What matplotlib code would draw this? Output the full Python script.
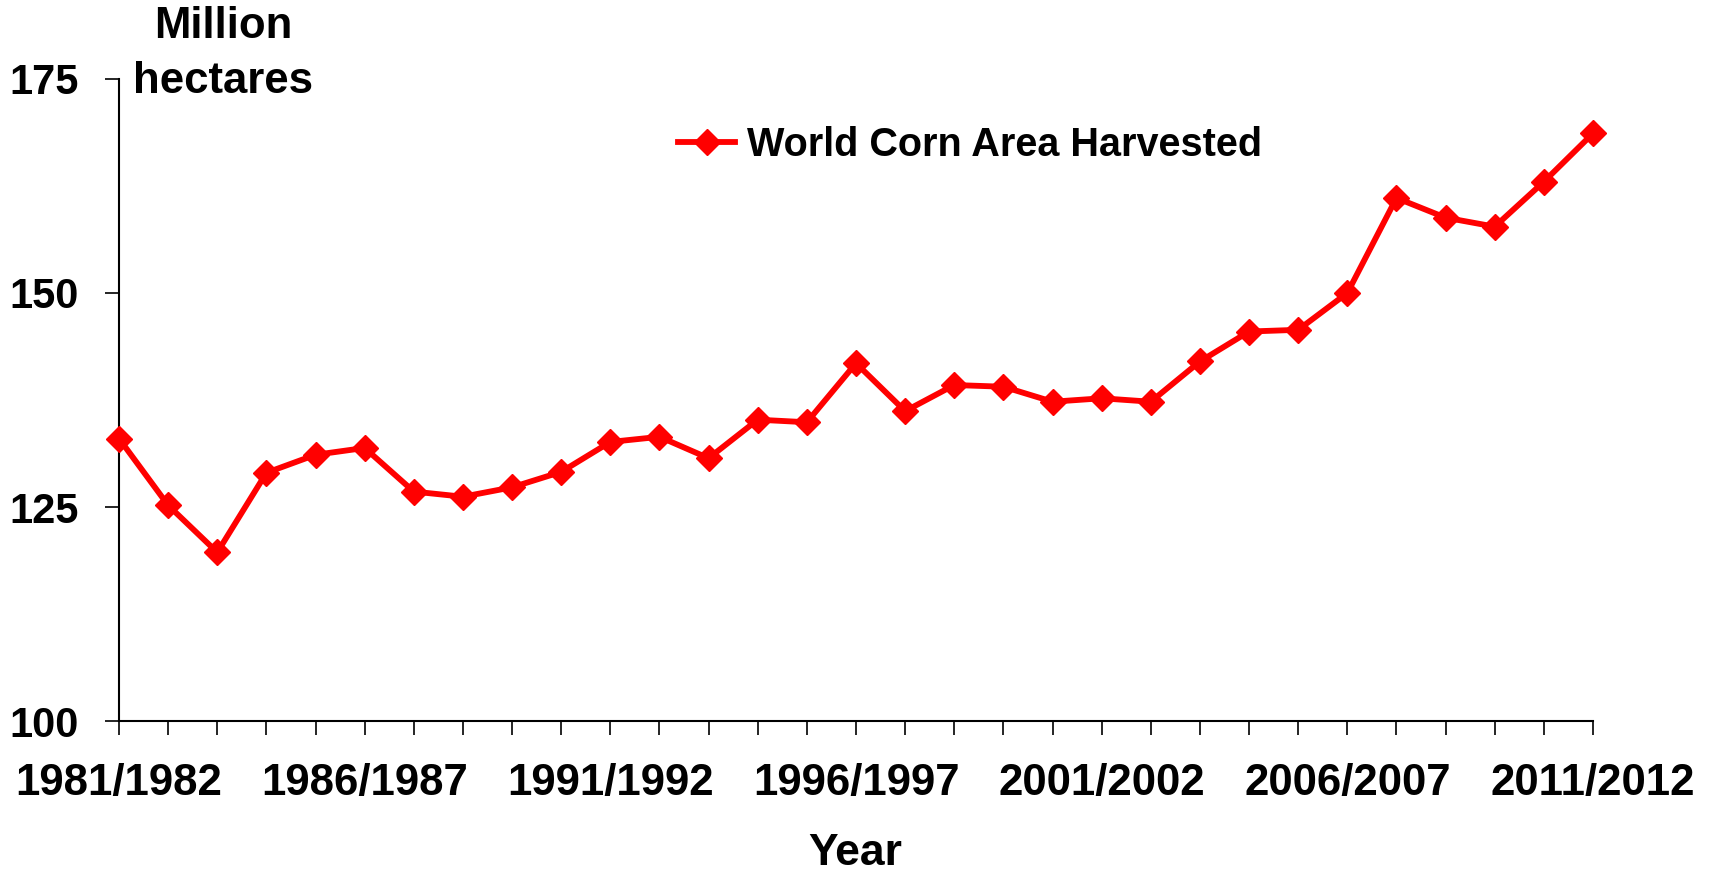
import numpy as np
import matplotlib.pyplot as plt

plt.rcParams['font.family'] = ['Liberation Sans', 'DejaVu Sans']
plt.rcParams['font.weight'] = 'bold'

years = [f"{y}/{y + 1}" for y in range(1981, 2012)]
area = [133.0, 125.2, 119.7, 129.0, 131.1, 131.9, 126.8, 126.2, 127.3, 129.1,
        132.6, 133.2, 130.7, 135.2, 134.9, 141.8, 136.2, 139.25, 139.05, 137.3,
        137.7, 137.3, 142.0, 145.5, 145.7, 150.0, 161.1, 158.8, 157.75, 163.0,
        168.65]
yticks = [100, 125, 150, 175]

W, H = 1712, 871
fig = plt.figure(figsize=(W / 100, H / 100), dpi=100)
ax = fig.add_axes([119 / W, 1 - 721 / H, (1593 - 119) / W, (721 - 79) / H])

x = np.arange(len(years))
ax.plot(x, area, color="#ff0000", lw=4.2, marker="D", ms=13.5,
        label="World Corn Area Harvested", clip_on=False, zorder=3)

ax.set_xlim(0, len(years) - 1)
ax.set_ylim(100, 175)
ax.set_yticks(yticks)
ax.set_xticks(x)
ax.set_xticklabels([lab if i % 5 == 0 else "" for i, lab in enumerate(years)])
ax.tick_params(axis="x", length=10, width=1.2, pad=20, labelsize=31.5)
ax.tick_params(axis="y", length=10, width=1.2, pad=19, labelsize=30)
for s in ["top", "right"]:
    ax.spines[s].set_visible(False)
for s in ["left", "bottom"]:
    ax.spines[s].set_linewidth(1.5)

# y axis title sits above the axis, two lines
fig.text(223 / W, 1 - 54 / H, "Million\nhectares", ha="center", va="center",
         fontsize=31.5, fontweight="bold", linespacing=1.45)
fig.text(855 / W, 1 - 853 / H, "Year", ha="center", va="center",
         fontsize=32, fontweight="bold")

ax.legend(loc="upper left", bbox_to_anchor=(642 / W, 1 - 90 / H),
          bbox_transform=fig.transFigure, frameon=False, fontsize=28.5,
          handlelength=1.46, handletextpad=0.3)

fig.savefig("out.png", dpi=100)
